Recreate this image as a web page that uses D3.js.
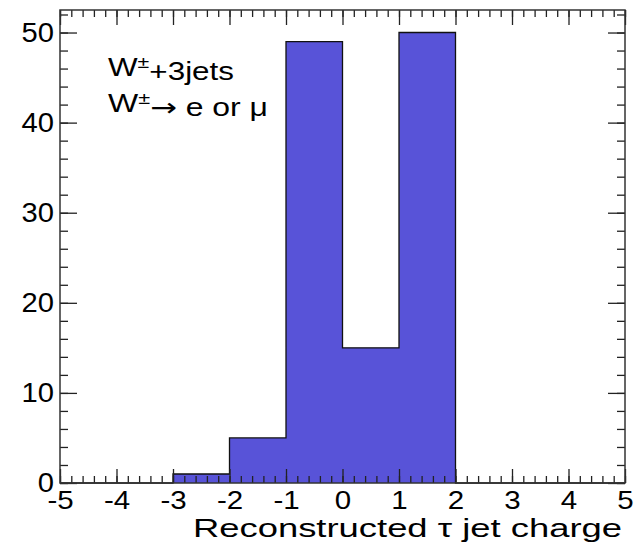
<!DOCTYPE html>
<html>
<head>
    <meta charset="utf-8">
    <script src="https://cdn.jsdelivr.net/npm/d3@7"></script>
    <style>
        body { margin: 0; background: #fff; }
        text { font-family: "Liberation Sans", Arial, sans-serif; fill: #000; }
    </style>
</head>
<body>
    <div id="chart"></div>
    <script type="text/javascript">
    // histogram bins (low edge) and counts
    var binLow = [-5, -4, -3, -2, -1, 0, 1, 2, 3, 4];
    var binCounts = [0, 0, 1, 5, 49, 15, 50, 0, 0, 0];
    var binWidth = 1;
    var xTicks = [-5, -4, -3, -2, -1, 0, 1, 2, 3, 4, 5];
    var yTicks = [0, 10, 20, 30, 40, 50];
    var xTitle = "Reconstructed \u03c4 jet charge";

    var fillColor = "#5853d8";

    var margin = { top: 10, right: 19, bottom: 61, left: 60 },
        width = 644 - margin.left - margin.right,
        height = 544 - margin.top - margin.bottom;

    var svg = d3.select("#chart")
        .append("svg")
        .attr("width", 644)
        .attr("height", 544);
    var g = svg.append("g").attr("transform", "translate(" + margin.left + "," + margin.top + ")");

    var xScale = d3.scaleLinear().domain([-5, 5]).range([0, width]);
    var yScale = d3.scaleLinear().domain([0, 52.5]).range([height, 0]);

    // step points: histogram outline like ROOT draws it
    var steps = [];
    binLow.forEach(function (d, i) {
        steps.push([d, binCounts[i]]);
        steps.push([d + binWidth, binCounts[i]]);
    });
    steps.unshift([binLow[0], 0]);
    steps.push([binLow[binLow.length - 1] + binWidth, 0]);

    var area = d3.area()
        .x(d => xScale(d[0]))
        .y0(yScale(0))
        .y1(d => yScale(d[1]));
    var line = d3.line()
        .x(d => xScale(d[0]))
        .y(d => yScale(d[1]));

    g.append("path")
        .datum(steps)
        .attr("d", area)
        .style("fill", fillColor);
    g.append("path")
        .datum(steps)
        .attr("d", line)
        .style("fill", "none")
        .style("stroke", "#111")
        .style("stroke-width", 1.3);

    // minor ticks
    var xMinor = d3.range(-5, 5.001, 0.2).map(v => Math.round(v * 10) / 10);
    var yMinor = d3.range(0, 53, 2);

    function tickStyle(sel) {
        sel.select(".domain").remove();
        sel.selectAll("line").style("stroke", "#222").style("stroke-width", 1.3);
    }
    function stretch(sel, f) {
        sel.each(function () {
            var w = this.getComputedTextLength();
            d3.select(this).attr("textLength", w * f).attr("lengthAdjust", "spacingAndGlyphs");
        });
    }

    g.append("g").attr("transform", "translate(0," + height + ")")
        .call(d3.axisBottom(xScale).tickValues(xMinor).tickSize(-7).tickFormat(""))
        .call(tickStyle);
    g.append("g").attr("transform", "translate(0," + height + ")")
        .call(d3.axisBottom(xScale).tickValues(xTicks).tickSizeInner(-14).tickSizeOuter(0)
            .tickPadding(8).tickFormat(d => String(d)))
        .call(tickStyle)
        .selectAll("text").style("font-size", "25px").attr("dy", "0.72em")
        .call(stretch, 1.18);

    g.append("g")
        .call(d3.axisTop(xScale).tickValues(xMinor).tickSize(-7).tickFormat(""))
        .call(tickStyle);
    g.append("g")
        .call(d3.axisTop(xScale).tickValues(xTicks).tickSize(-15).tickFormat(""))
        .call(tickStyle);

    g.append("g")
        .call(d3.axisLeft(yScale).tickValues(yMinor).tickSize(-8).tickFormat(""))
        .call(tickStyle);
    g.append("g")
        .call(d3.axisLeft(yScale).tickValues(yTicks).tickSizeInner(-17).tickSizeOuter(0)
            .tickPadding(6).tickFormat(d => String(d)))
        .call(tickStyle)
        .selectAll("text").style("font-size", "27px")
        .call(stretch, 1.08);

    g.append("g").attr("transform", "translate(" + width + ",0)")
        .call(d3.axisRight(yScale).tickValues(yMinor).tickSize(-8).tickFormat(""))
        .call(tickStyle);
    g.append("g").attr("transform", "translate(" + width + ",0)")
        .call(d3.axisRight(yScale).tickValues(yTicks).tickSize(-17).tickFormat(""))
        .call(tickStyle);

    // frame
    g.append("rect")
        .attr("x", 0).attr("y", 0)
        .attr("width", width).attr("height", height)
        .style("fill", "none")
        .style("stroke", "#333")
        .style("stroke-width", 1.5);

    // axis title
    svg.append("text")
        .attr("x", 193)
        .attr("y", 537)
        .attr("textLength", 429)
        .attr("lengthAdjust", "spacingAndGlyphs")
        .style("font-size", "26.5px")
        .text(xTitle);

    // labels
    var t1 = svg.append("text")
        .attr("x", 108).attr("y", 76)
        .attr("textLength", 126)
        .attr("lengthAdjust", "spacingAndGlyphs")
        .style("font-size", "25px");
    t1.append("tspan").text("W");
    t1.append("tspan").attr("dy", "-0.5em").style("font-size", "17px").text("\u00b1");
    t1.append("tspan").attr("dy", "0.5em").text("+3jets");

    var t2 = svg.append("text")
        .attr("x", 108).attr("y", 112)
        .attr("textLength", 160)
        .attr("lengthAdjust", "spacingAndGlyphs")
        .style("font-size", "25px");
    t2.append("tspan").text("W");
    t2.append("tspan").attr("dy", "-0.5em").style("font-size", "17px").text("\u00b1");
    t2.append("tspan").attr("dy", "0.5em").style("font-family", "DejaVu Sans").style("font-size", "25px").text("\u2192");
    t2.append("tspan").text(" e or \u03bc");
    </script>
</body>
</html>
